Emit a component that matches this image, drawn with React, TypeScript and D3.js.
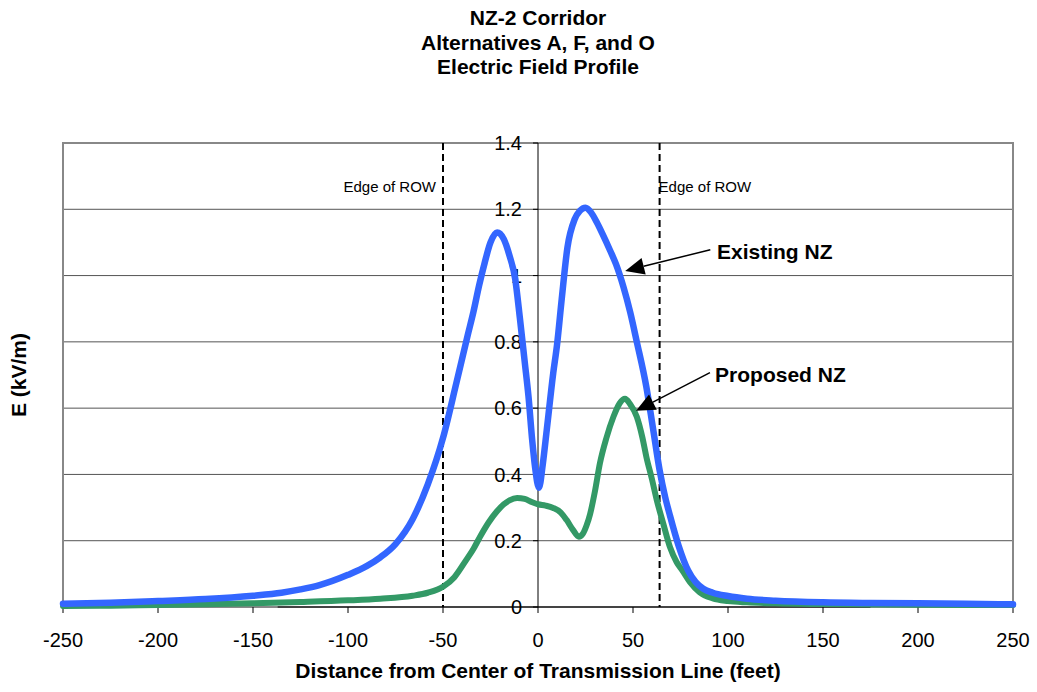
import React from 'react';
import * as d3 from 'd3';

const titleLines = ['NZ-2 Corridor', 'Alternatives A, F, and O', 'Electric Field Profile'];
const xTicks = [-250, -200, -150, -100, -50, 0, 50, 100, 150, 200, 250];
const yTicks = [0, 0.2, 0.4, 0.6, 0.8, 1, 1.2, 1.4];
const yTickLabels = ['0', '0.2', '0.4', '0.6', '0.8', '1', '1.2', '1.4'];
const rowEdges = [-50, 64];
const rowLabel = 'Edge of ROW';
const zeroLineSpan = [-137, 175];

const existingX = [-250, -225, -200, -175, -150, -135, -125, -115, -100, -90, -83, -75, -66, -58, -50, -43, -37, -34, -31, -28, -25, -21.5, -18, -15, -12, -9.5, -7, -5, -3, -1.5, 0.5, 2.5, 4.6, 8, 10, 12.5, 15.5, 19.3, 22, 25, 28, 31, 34, 38, 41, 45, 48.5, 52, 57, 60.5, 64, 67, 69.5, 74, 79, 83, 87, 92, 100, 110, 125, 150, 175, 200, 225, 250];
const existingE = [0.01, 0.013, 0.018, 0.024, 0.034, 0.043, 0.053, 0.066, 0.097, 0.124, 0.15, 0.19, 0.265, 0.37, 0.51, 0.675, 0.82, 0.89, 0.97, 1.04, 1.1, 1.13, 1.11, 1.06, 0.99, 0.87, 0.74, 0.635, 0.5, 0.42, 0.36, 0.43, 0.534, 0.705, 0.79, 0.93, 1.085, 1.17, 1.195, 1.205, 1.19, 1.16, 1.125, 1.075, 1.035, 0.965, 0.89, 0.8, 0.665, 0.54, 0.413, 0.33, 0.275, 0.185, 0.11, 0.075, 0.055, 0.043, 0.033, 0.025, 0.019, 0.014, 0.012, 0.011, 0.01, 0.008];

const proposedX = [-250, -225, -200, -175, -150, -125, -100, -83, -66, -58, -50, -44, -38, -34, -30.5, -26, -21.7, -18, -15, -11, -7, -3, 0, 4, 8, 12, 15, 18.5, 21.5, 23.5, 25.5, 27.4, 30, 32.6, 36, 39.7, 43, 45.8, 48.5, 52, 55, 57, 60, 62.5, 66, 69.5, 73, 76, 80, 85, 92, 100, 110, 125, 150, 200, 250];
const proposedE = [0.003, 0.004, 0.006, 0.008, 0.011, 0.015, 0.02, 0.025, 0.034, 0.043, 0.061, 0.09, 0.14, 0.175, 0.212, 0.255, 0.288, 0.31, 0.322, 0.329, 0.326, 0.316, 0.31, 0.306, 0.299, 0.285, 0.263, 0.232, 0.212, 0.22, 0.245, 0.28, 0.35, 0.434, 0.51, 0.574, 0.615, 0.628, 0.612, 0.574, 0.51, 0.454, 0.385, 0.323, 0.25, 0.18, 0.135, 0.11, 0.075, 0.045, 0.026, 0.018, 0.014, 0.011, 0.009, 0.007, 0.006];

// annotations in data units
const existingNote = { label: 'Existing NZ', tip: [45.9, 1.014], tail: [90.7, 1.078], text: [94.2, 1.051] };
const proposedNote = { label: 'Proposed NZ', tip: [51.6, 0.592], tail: [90.5, 0.707], text: [93.2, 0.68] };

const xTitle = 'Distance from Center of Transmission Line (feet)';
const yTitle = 'E (kV/m)';

const W = 1037;
const H = 692;
const left = 63, right = 1013, top = 143, bottom = 607;
const FONT = "Arial, 'Liberation Sans', Helvetica, sans-serif";

export default function App() {
  const x = d3.scaleLinear().domain([-250, 250]).range([left, right]);
  const y = d3.scaleLinear().domain([0, 1.4]).range([bottom, top]);
  const line = d3
    .line<[number, number]>()
    .x((d) => x(d[0]))
    .y((d) => y(d[1]))
    .curve(d3.curveMonotoneX);
  const existing = existingX.map((v, i) => [v, existingE[i]] as [number, number]);
  const proposed = proposedX.map((v, i) => [v, proposedE[i]] as [number, number]);

  const arrow = (note: typeof existingNote) => {
    const tx = x(note.tip[0]), ty = y(note.tip[1]);
    const sx = x(note.tail[0]), sy = y(note.tail[1]);
    const dx = tx - sx, dy = ty - sy;
    const len = Math.hypot(dx, dy);
    const ux = dx / len, uy = dy / len;
    const L = 19, hw = 8.5;
    const bx = tx - ux * L, by = ty - uy * L;
    const p1 = [bx - uy * hw, by + ux * hw];
    const p2 = [bx + uy * hw, by - ux * hw];
    return (
      <g key={note.label}>
        <line x1={sx} y1={sy} x2={bx} y2={by} stroke="#000" strokeWidth={1.5} />
        <polygon points={`${tx},${ty} ${p1[0]},${p1[1]} ${p2[0]},${p2[1]}`} fill="#000" />
        <text x={x(note.text[0])} y={y(note.text[1])} fontSize={21} fontWeight="bold" fontFamily={FONT} fill="#000">
          {note.label}
        </text>
      </g>
    );
  };

  return (
    <svg width={W} height={H} style={{ position: 'absolute', left: 0, top: 0, background: '#fff' }}>
      <rect x={0} y={0} width={W} height={H} fill="#fff" />
      {titleLines.map((t, i) => (
        <text key={t} x={(left + right) / 2} y={25 + i * 24.5} textAnchor="middle" fontSize={21} fontWeight="bold" fontFamily={FONT}>
          {t}
        </text>
      ))}
      {yTicks.slice(1, -1).map((t) => (
        <line key={t} x1={left} x2={right} y1={y(t)} y2={y(t)} stroke="#555" strokeWidth={1} />
      ))}
      <rect x={left} y={top} width={right - left} height={bottom - top} fill="none" stroke="#888" strokeWidth={2} />
      <line x1={x(zeroLineSpan[0])} x2={x(zeroLineSpan[1])} y1={y(0)} y2={y(0)} stroke="#000" strokeWidth={1} />
      <line x1={x(0)} x2={x(0)} y1={top} y2={bottom} stroke="#000" strokeWidth={1} />
      {yTicks.map((t, i) => (
        <g key={t}>
          <line x1={x(0) - 5} x2={x(0)} y1={y(t)} y2={y(t)} stroke="#000" strokeWidth={1} />
          <text x={x(0) - 16} y={y(t)} dy="0.36em" textAnchor="end" fontSize={20} fontFamily={FONT}>
            {yTickLabels[i]}
          </text>
        </g>
      ))}
      {xTicks.map((t) => (
        <g key={t}>
          <line x1={x(t)} x2={x(t)} y1={bottom} y2={bottom + 6} stroke="#000" strokeWidth={1} />
          <text x={x(t)} y={647} textAnchor="middle" fontSize={20} fontFamily={FONT}>
            {t}
          </text>
        </g>
      ))}
      {rowEdges.map((e) => (
        <line key={e} x1={x(e)} x2={x(e)} y1={top} y2={bottom} stroke="#000" strokeWidth={2} strokeDasharray="7,4" />
      ))}
      <text x={x(rowEdges[0]) - 7} y={192} textAnchor="end" fontSize={15} fontFamily={FONT}>
        {rowLabel}
      </text>
      <text x={x(rowEdges[1]) - 1} y={192} textAnchor="start" fontSize={15} fontFamily={FONT}>
        {rowLabel}
      </text>
      <path d={line(proposed) || ''} fill="none" stroke="#339966" strokeWidth={6} strokeLinejoin="round" strokeLinecap="round" />
      <path d={line(existing) || ''} fill="none" stroke="#3366FF" strokeWidth={6.5} strokeLinejoin="round" strokeLinecap="round" />
      {arrow(existingNote)}
      {arrow(proposedNote)}
      <text x={(left + right) / 2} y={678} textAnchor="middle" fontSize={21} fontWeight="bold" fontFamily={FONT}>
        {xTitle}
      </text>
      <text transform={`translate(26, ${(top + bottom) / 2}) rotate(-90)`} textAnchor="middle" fontSize={21} fontWeight="bold" fontFamily={FONT}>
        {yTitle}
      </text>
    </svg>
  );
}
